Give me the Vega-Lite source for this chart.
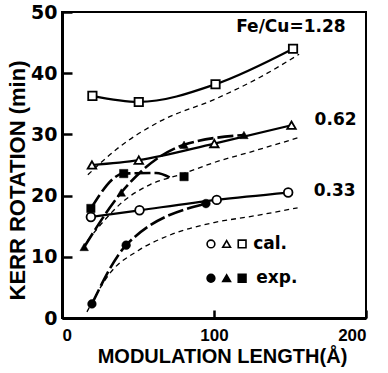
{
  "$schema": "https://vega.github.io/schema/vega-lite/v6.json",
  "width": 304,
  "height": 306,
  "autosize": "none",
  "padding": {"left": 62, "top": 12, "right": 22, "bottom": 55},
  "background": "white",
  "config": {
    "view": {"stroke": "black", "strokeWidth": 2},
    "axis": {"grid": false, "domainColor": "black", "domainWidth": 3, "tickColor": "black", "tickWidth": 2.5, "labelColor": "black", "titleColor": "black"}
  },
  "datasets": {
    "pts": [
      {"series": "1.28", "kind": "cal", "x": 20, "y": 36.3},
      {"series": "1.28", "kind": "cal", "x": 50.5, "y": 35.3},
      {"series": "1.28", "kind": "cal", "x": 101, "y": 38.2},
      {"series": "1.28", "kind": "cal", "x": 152, "y": 44.0},
      {"series": "0.62", "kind": "cal", "x": 19.7, "y": 25.0},
      {"series": "0.62", "kind": "cal", "x": 50.5, "y": 25.8},
      {"series": "0.62", "kind": "cal", "x": 100.2, "y": 28.5},
      {"series": "0.62", "kind": "cal", "x": 151, "y": 31.5},
      {"series": "0.33", "kind": "cal", "x": 19, "y": 16.5},
      {"series": "0.33", "kind": "cal", "x": 51, "y": 17.6},
      {"series": "0.33", "kind": "cal", "x": 101.8, "y": 19.3},
      {"series": "0.33", "kind": "cal", "x": 148.8, "y": 20.5},
      {"series": "1.28", "kind": "exp", "x": 19, "y": 17.9},
      {"series": "1.28", "kind": "exp", "x": 40.6, "y": 23.6},
      {"series": "1.28", "kind": "exp", "x": 80.3, "y": 23.1},
      {"series": "0.62", "kind": "exp", "x": 14.6, "y": 11.6},
      {"series": "0.62", "kind": "exp", "x": 39, "y": 20.5},
      {"series": "0.62", "kind": "exp", "x": 80.3, "y": 28.3},
      {"series": "0.62", "kind": "exp", "x": 119.7, "y": 29.9},
      {"series": "0.33", "kind": "exp", "x": 19.7, "y": 2.3},
      {"series": "0.33", "kind": "exp", "x": 42.2, "y": 11.9},
      {"series": "0.33", "kind": "exp", "x": 94.7, "y": 18.7}
    ],
    "expLines": [
      {"series": "1.28", "x": 19, "y": 17.9},
      {"series": "1.28", "x": 40.6, "y": 23.6},
      {"series": "1.28", "x": 62, "y": 23.7},
      {"series": "1.28", "x": 72, "y": 22.8},
      {"series": "0.62", "x": 14.6, "y": 11.6},
      {"series": "0.62", "x": 39, "y": 20.5},
      {"series": "0.62", "x": 80.3, "y": 28.3},
      {"series": "0.62", "x": 119.7, "y": 29.9},
      {"series": "0.33", "x": 19.7, "y": 2.3},
      {"series": "0.33", "x": 42.2, "y": 11.9},
      {"series": "0.33", "x": 94.7, "y": 18.7}
    ],
    "theory": [
      {"series": "1.28", "x": 17, "y": 23.4},
      {"series": "1.28", "x": 37, "y": 27.8},
      {"series": "1.28", "x": 65, "y": 32.2},
      {"series": "1.28", "x": 102, "y": 35.9},
      {"series": "1.28", "x": 130, "y": 39.3},
      {"series": "1.28", "x": 156, "y": 43.1},
      {"series": "0.62", "x": 17, "y": 12.7},
      {"series": "0.62", "x": 27, "y": 15.7},
      {"series": "0.62", "x": 40, "y": 19.0},
      {"series": "0.62", "x": 58, "y": 21.8},
      {"series": "0.62", "x": 80, "y": 23.6},
      {"series": "0.62", "x": 100, "y": 25.4},
      {"series": "0.62", "x": 125, "y": 27.2},
      {"series": "0.62", "x": 156, "y": 29.5},
      {"series": "0.33", "x": 16.4, "y": 1.0},
      {"series": "0.33", "x": 31.8, "y": 7.4},
      {"series": "0.33", "x": 50, "y": 11.0},
      {"series": "0.33", "x": 71.5, "y": 13.6},
      {"series": "0.33", "x": 100, "y": 15.6},
      {"series": "0.33", "x": 124.5, "y": 16.6},
      {"series": "0.33", "x": 155, "y": 18.0}
    ],
    "legendPts": [
      {"series": "0.33", "kind": "cal", "x": 98, "y": 12.1},
      {"series": "0.62", "kind": "cal", "x": 108.3, "y": 12.1},
      {"series": "1.28", "kind": "cal", "x": 118.5, "y": 12.1},
      {"series": "0.33", "kind": "exp", "x": 98, "y": 6.5},
      {"series": "0.62", "kind": "exp", "x": 108.3, "y": 6.5},
      {"series": "1.28", "kind": "exp", "x": 118.5, "y": 6.5}
    ],
    "labels": [
      {"label": "Fe/Cu=1.28", "x": 114.6, "y": 47.5},
      {"label": "0.62", "x": 166.2, "y": 32.3},
      {"label": "0.33", "x": 165.6, "y": 20.8},
      {"label": "cal.", "x": 125.8, "y": 12.1},
      {"label": "exp.", "x": 127.8, "y": 6.5}
    ]
  },
  "encoding": {
    "x": {"field": "x", "type": "quantitative", "scale": {"domain": [0, 200]},
      "axis": {"values": [0, 100, 200], "tickSize": -8, "labelPadding": 17, "labelFont": "Liberation Sans", "labelFontWeight": "bold", "labelFontSize": 17,
        "title": "MODULATION LENGTH(Å)", "titleFont": "Liberation Sans", "titleFontWeight": "bold", "titleFontSize": 20, "titleX": 160, "titleY": 38, "titleBaseline": "middle", "titleAlign": "center"}},
    "y": {"field": "y", "type": "quantitative", "scale": {"domain": [0, 50]},
      "axis": {"values": [0, 10, 20, 30, 40, 50], "tickSize": -10, "labelPadding": 15, "labelFont": "DejaVu Sans", "labelFontWeight": "bold", "labelFontSize": 19,
        "title": "KERR ROTATION (min)", "titleFont": "Liberation Sans", "titleFontWeight": "bold", "titleFontSize": 22, "titleX": -45, "titleY": 168, "titleBaseline": "middle", "titleAlign": "center", "titleAngle": -90}}
  },
  "layer": [
    {
      "data": {"name": "theory"},
      "mark": {"type": "line", "interpolate": "monotone", "color": "black", "strokeWidth": 1.3, "strokeDash": [5, 4]},
      "encoding": {"detail": {"field": "series"}}
    },
    {
      "data": {"name": "pts"},
      "transform": [{"filter": "datum.kind === 'cal'"}],
      "mark": {"type": "line", "interpolate": "monotone", "color": "black", "strokeWidth": 2.2},
      "encoding": {"detail": {"field": "series"}}
    },
    {
      "data": {"name": "expLines"},
      "mark": {"type": "line", "interpolate": "monotone", "color": "black", "strokeWidth": 2.6, "strokeDash": [16, 4]},
      "encoding": {"detail": {"field": "series"}}
    },
    {
      "data": {"name": "pts"},
      "transform": [{"filter": "datum.kind === 'cal'"}],
      "mark": {"type": "point", "filled": true, "fill": "white", "stroke": "black", "strokeWidth": 1.8, "opacity": 1},
      "encoding": {
        "shape": {"field": "series", "scale": {"domain": ["0.33", "0.62", "1.28"], "range": ["circle", "triangle-up", "square"]}, "legend": null},
        "size": {"field": "series", "scale": {"domain": ["0.33", "0.62", "1.28"], "range": [75, 70, 50]}, "legend": null}
      }
    },
    {
      "data": {"name": "pts"},
      "transform": [{"filter": "datum.kind === 'exp'"}],
      "mark": {"type": "point", "filled": true, "fill": "black", "stroke": "black", "strokeWidth": 0.5, "opacity": 1},
      "encoding": {
        "shape": {"field": "series", "scale": {"domain": ["0.33", "0.62", "1.28"], "range": ["circle", "triangle-up", "square"]}, "legend": null},
        "size": {"field": "series", "scale": {"domain": ["0.33", "0.62", "1.28"], "range": [100, 100, 115]}, "legend": null}
      }
    },
    {
      "data": {"name": "legendPts"},
      "mark": {"type": "point", "opacity": 1, "stroke": "black", "strokeWidth": 1.6},
      "encoding": {
        "shape": {"field": "series", "scale": {"domain": ["0.33", "0.62", "1.28"], "range": ["circle", "triangle-up", "square"]}, "legend": null},
        "fill": {"field": "kind", "scale": {"domain": ["cal", "exp"], "range": ["white", "black"]}, "legend": null},
        "size": {"value": 60}
      }
    },
    {
      "data": {"name": "labels"},
      "mark": {"type": "text", "align": "left", "baseline": "middle", "font": "DejaVu Sans", "fontWeight": "bold", "fontSize": 17, "color": "black"},
      "encoding": {"text": {"field": "label"}}
    }
  ]
}
